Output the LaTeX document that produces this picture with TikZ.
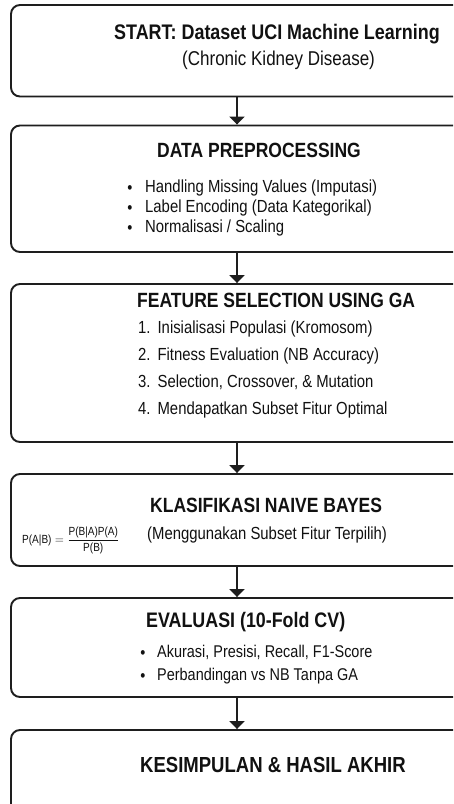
\documentclass[tikz,border=0pt]{standalone}
\usepackage{fontspec}
\setmainfont{Liberation Sans}[FakeStretch=0.85]
\usetikzlibrary{arrows.meta}
\definecolor{ink}{HTML}{111111}
\definecolor{frame}{HTML}{1E1E1E}
\tikzset{
  stage/.style={draw=frame, line width=1.9pt, rounded corners=9pt, fill=white,
    minimum width=452pt, inner sep=0pt},
  ttl/.style={anchor=mid west, inner sep=0pt, text=ink,
    font=\bfseries\fontsize{20.6}{24}\selectfont},
  txt/.style={anchor=mid west, inner sep=0pt, text=ink,
    font=\fontsize{17.5}{20}\selectfont},
  dot/.style={inner sep=0pt, text=ink, font=\fontsize{17}{20}\selectfont},
  flow/.style={draw=frame, line width=1.9pt, -{Triangle[width=15pt,length=8pt]}},
}
\begin{document}
\begin{tikzpicture}[x=1pt,y=-1pt]
\useasboundingbox (0,0) rectangle (453,804);
\fill[white] (0,0) rectangle (453,804);
\clip (0,0) rectangle (453,804);

% stage boxes
\node[stage, minimum height=91.5pt]  (b1) at (237,50.75) {};
\node[stage, minimum height=126.5pt] (b2) at (237,188.75) {};
\node[stage, minimum height=158pt]   (b3) at (237,363) {};
\node[stage, minimum height=92pt]    (b4) at (237,520) {};
\node[stage, minimum height=99pt]    (b5) at (237,647.5) {};
\node[stage, minimum height=85pt]    (b6) at (237,772.5) {};

% connectors
\draw[flow] (b1.south) -- (b2.north);
\draw[flow] (b2.south) -- (b3.north);
\draw[flow] (b3.south) -- (b4.north);
\draw[flow] (b4.south) -- (b5.north);
\draw[flow] (b5.south) -- (b6.north);

% start
\node[ttl, font=\bfseries\fontsize{21.1}{24}\selectfont] (t1) at (114,37) {START: Dataset UCI Machine Learning};
\node[txt, font=\fontsize{20}{23}\selectfont] (s1) at (182,63) {(Chronic Kidney Disease)};

% preprocessing
\node[ttl] (t2) at (157,155) {DATA PREPROCESSING};
\node[dot] (d21) at (130,190) {\textbullet};
\node[dot] (d22) at (130,210) {\textbullet};
\node[dot] (d23) at (130,230) {\textbullet};
\node[txt] (i21) at (145,190) {Handling Missing Values (Imputasi)};
\node[txt] (i22) at (145,210) {Label Encoding (Data Kategorikal)};
\node[txt] (i23) at (145,230) {Normalisasi / Scaling};

% feature selection
\node[ttl] (t3) at (137,305) {FEATURE SELECTION USING GA};
\node[txt] (i31) at (138,331) {1.\hspace{7pt}Inisialisasi Populasi (Kromosom)};
\node[txt] (i32) at (138,358) {2.\hspace{7pt}Fitness Evaluation (NB Accuracy)};
\node[txt] (i33) at (138,385) {3.\hspace{7pt}Selection, Crossover, \& Mutation};
\node[txt] (i34) at (138,412) {4.\hspace{7pt}Mendapatkan Subset Fitur Optimal};

% naive bayes
\node[ttl] (t4) at (150,510) {KLASIFIKASI NAIVE BAYES};
\node[txt] (s4) at (147,537) {(Menggunakan Subset Fitur Terpilih)};
\node[anchor=mid west, inner sep=0pt, text=ink, font=\fontsize{11.8}{14}\selectfont] (f4) at (22,541)
  {$\displaystyle\mbox{P(A|B)}=\frac{\mbox{P(B|A)P(A)}}{\mbox{P(B)}}$};

% evaluation
\node[ttl, font=\bfseries\fontsize{21}{24}\selectfont] (t5) at (146,625) {EVALUASI (10-Fold CV)};
\node[dot] (d51) at (143,655) {\textbullet};
\node[dot] (d52) at (143,678) {\textbullet};
\node[txt, font=\fontsize{17}{20}\selectfont] (i51) at (157,655) {Akurasi, Presisi, Recall, F1-Score};
\node[txt, font=\fontsize{17}{20}\selectfont] (i52) at (157,678) {Perbandingan vs NB Tanpa GA};

% conclusion
\node[ttl, font=\bfseries\fontsize{21.8}{25}\selectfont] (t6) at (140,770) {KESIMPULAN \& HASIL AKHIR};
\end{tikzpicture}
\end{document}
